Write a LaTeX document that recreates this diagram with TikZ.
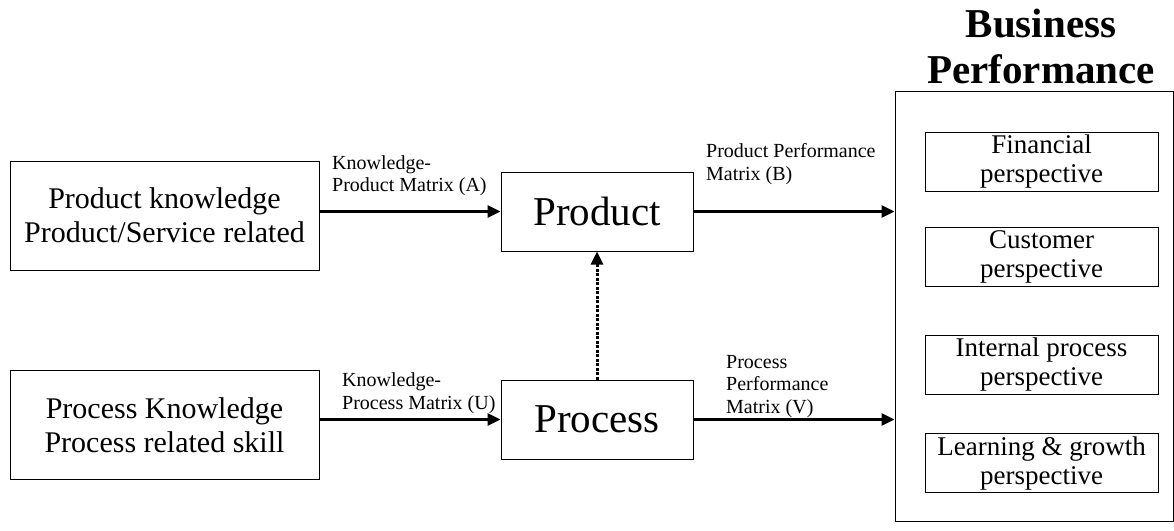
\documentclass[tikz,border=0pt]{standalone}
\usepackage{fontspec}
\setmainfont{Liberation Serif}
\usetikzlibrary{arrows.meta}
\begin{document}
\begin{tikzpicture}[x=1pt,y=-1pt,
 box/.style={draw, line width=1pt, inner sep=0pt, align=center},
 srcbox/.style={box, minimum width=309pt, minimum height=109pt, font=\fontsize{30}{34}\selectfont},
 midbox/.style={box, minimum width=192pt, minimum height=79pt, font=\fontsize{41}{46}\selectfont},
 perbox/.style={box, minimum width=233pt, minimum height=59pt, font=\fontsize{27}{29}\selectfont},
 arr/.style={line width=3pt, -{Triangle[length=13pt,width=12pt]}},
 dotarr/.style={line width=3pt, dash pattern=on 3pt off 1.5pt, -{Triangle[length=13pt,width=12pt]}},
 lbl/.style={font=\fontsize{20}{22.5}\selectfont, align=left, inner sep=0pt, anchor=base west}]
\useasboundingbox (0,0) rectangle (1174,530);
\node[srcbox] (pk) at (164.5,215.5) {Product knowledge\\Product/Service related};
\node[srcbox] (ck) at (164.5,425) {Process Knowledge\\Process related skill};
\node[midbox] (prod) at (597,211.5) {Product};
\node[midbox] (proc) at (597,419.5) {Process};
\node[draw, line width=1pt, minimum width=278pt, minimum height=430pt, inner sep=0pt] (bp) at (1034,306) {};
\node[font=\fontsize{41}{46}\selectfont\bfseries, align=center, inner sep=0pt, anchor=base] (title) at (1041,83) {Business\\Performance};
\node[perbox, yshift=-2pt] (fin) at (1041.5,159.5) {Financial\\perspective};
\node[perbox] (cus) at (1041.5,257) {Customer\\perspective};
\node[perbox] (int) at (1041.5,365) {Internal process\\perspective};
\node[perbox] (lg) at (1041.5,463) {Learning \& growth\\perspective};
\draw[arr] (pk.east |- prod) -- (prod.west);
\draw[arr] (ck.east |- proc) -- (proc.west);
\draw[arr] (prod.east) -- (bp.west |- prod);
\draw[arr] (proc.east) -- (bp.west |- proc);
\draw[dotarr] (proc.north) -- (prod.south);
\node[lbl] (la) at (332,191.5) {Knowledge-\\Product Matrix (A)};
\node[lbl] (lu) at (342,409) {Knowledge-\\Process Matrix (U)};
\node[lbl] (lb) at (706,180) {Product Performance\\Matrix (B)};
\node[lbl] (lv) at (726,413) {Process\\Performance\\Matrix (V)};
\end{tikzpicture}
\end{document}
